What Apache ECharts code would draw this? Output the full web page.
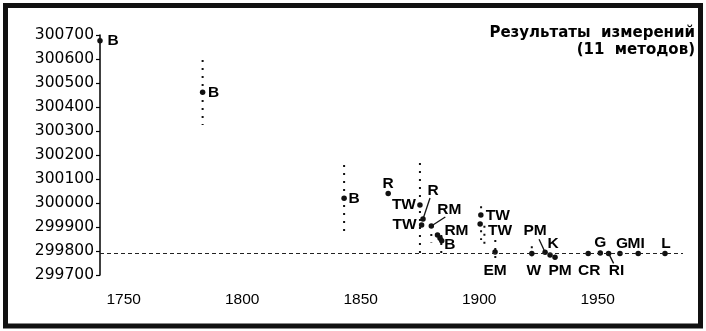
<!DOCTYPE html>
<html>
<head>
<meta charset="utf-8">
<script src="https://cdn.jsdelivr.net/npm/echarts@6/dist/echarts.min.js"></script>
<style>
html,body{margin:0;padding:0;background:#fff;}
#c{width:706px;height:331px;}
</style>
</head>
<body>
<div id="c"></div>
<script>
// ---- data ----
const pointNames  = ['B','B','B','R','TW','TW','R','RM','RM','','B','TW','TW','EM','W','PM','K','PM','CR','G','RI','G','MI','L'];
const pointYears  = [1740,1783.3,1843,1861.6,1875,1875.7,1876.3,1879.8,1882.4,1883.5,1884.2,1900.7,1900.4,1906.7,1922.2,1927.8,1929.9,1932,1946,1951.1,1954.6,1959.4,1967.1,1978.4];
const pointValues = [300676,300461,300020,300040,299992,299908,299933,299904,299867,299853,299843,299950,299912,299796,299790,299795,299783,299774,299790,299792,299790,299790,299790,299790];

const errYears = [1783.3,1843,1875,1879.8,1884,1900.8,1902.2,1906.8,1922.2];
const errLow   = [300325,299880,299771,299835,299776,299846,299830,299762,299755];
const errHigh  = [300596,300158,300167,299904,299867,299986,299905,299846,299820];

const speedOfLight = 299792.458;
const xTickLabels = [1750,1800,1850,1900,1950];
const titleLines = ['Результаты  измерений','(11  методов)'];

// ---- label placement (pixel offsets, style only) ----
const labelOffsets = [[13,0],[11,0],[10,1],[0,-10],[-16,0],[-17,0],[10,-28],[18,-16],[19,-4],[0,0],[8,4],[17,1],[20,7],[0,19],[2,17],[-10,-21],[3,-11],[5,13],[1,17],[0,-10],[8,17],[2,-10],[-2,-10],[1,-10]];
const leaderEnds = {6:[7,-21], 7:[14,-9], 15:[-6,-13], 20:[5,10]};

const chart = echarts.init(document.getElementById('c'), null, {renderer:'canvas'});

const scatterData = pointYears.map((y,i)=>({
  value:[y, pointValues[i]],
  name: pointNames[i],
  label:{offset: labelOffsets[i]}
}));
const errData = errYears.map((y,i)=>[y, errLow[i], errHigh[i]]);
const leaderData = Object.keys(leaderEnds).map(k=>[pointYears[k], pointValues[k], +k]);

const option = {
  animation:false,
  backgroundColor:'#fff',
  grid:{left:100, top:35, right:23, bottom:56, containLabel:false},
  xAxis:{
    type:'value', min:1740, max:1986,
    axisLine:{show:false}, axisTick:{show:false}, splitLine:{show:false},
    axisLabel:{
      customValues: xTickLabels,
      formatter: v=>String(v),
      color:'#000', fontFamily:'Liberation Sans', fontSize:15.5, margin:17
    }
  },
  yAxis:{
    type:'value', min:299700, max:300700, interval:100,
    axisLine:{show:true, lineStyle:{color:'#000', width:1.5}},
    axisTick:{show:true, inside:false, length:4, lineStyle:{color:'#000', width:1.2}},
    splitLine:{show:false},
    axisLabel:{formatter: v=>String(v), color:'#000', fontFamily:'DejaVu Sans', fontSize:15.5, margin:6}
  },
  graphic:[
    {type:'rect', shape:{x:5.5, y:5.5, width:695, height:320.5}, style:{fill:'none', stroke:'#111', lineWidth:5}, z:100},
    {type:'text', x:695, y:25, style:{text:titleLines.join('\n'), align:'right', verticalAlign:'top', fill:'#000', font:'bold 15px "DejaVu Sans"', lineHeight:17}, z:100}
  ],
  series:[
    {
      type:'custom',
      data: errData,
      renderItem:(params, api)=>{
        const top = api.coord([api.value(0), api.value(2)]);
        const bot = api.coord([api.value(0), api.value(1)]);
        return {type:'line', shape:{x1:top[0], y1:top[1], x2:bot[0], y2:bot[1]},
          style:{stroke:'#111', lineWidth:2, lineDash:[2,6]}};
      },
      z:2
    },
    {
      type:'custom',
      data: leaderData,
      renderItem:(params, api)=>{
        const p = api.coord([api.value(0), api.value(1)]);
        const e = leaderEnds[api.value(2)];
        return {type:'line', shape:{x1:p[0], y1:p[1], x2:p[0]+e[0], y2:p[1]+e[1]},
          style:{stroke:'#111', lineWidth:1.3}};
      },
      z:3
    },
    {
      type:'scatter',
      data: scatterData,
      symbol:'circle', symbolSize:5.5,
      itemStyle:{color:'#111', opacity:1},
      label:{
        show:true, position:'inside', align:'center', verticalAlign:'middle',
        formatter: p=>p.name,
        color:'#000', opacity:1, textBorderWidth:0, textBorderColor:'transparent',
        fontFamily:'Liberation Sans', fontWeight:'bold', fontSize:15.5
      },
      markLine:{
        silent:true, symbol:'none', label:{show:false},
        lineStyle:{color:'#222', width:1.2, type:[4,3]},
        data:[{yAxis: speedOfLight}]
      },
      z:4
    }
  ]
};
chart.setOption(option);
</script>
</body>
</html>
